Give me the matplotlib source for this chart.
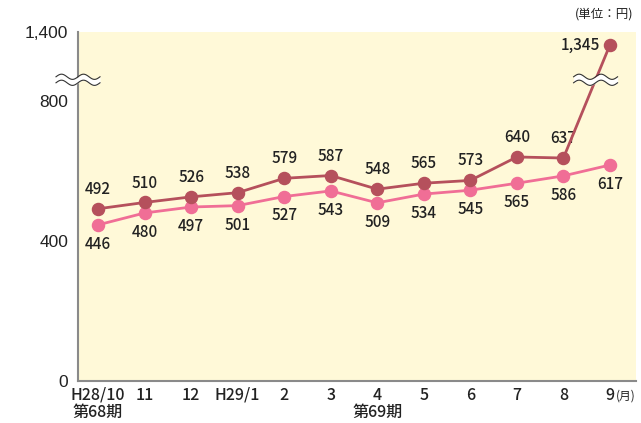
import numpy as np
import matplotlib
matplotlib.use('Agg')
import matplotlib.pyplot as plt

plt.rcParams['font.family'] = ['Noto Sans CJK JP', 'DejaVu Sans']

months = ['H28/10', '11', '12', 'H29/1', '2', '3', '4', '5', '6', '7', '8', '9']
upper = [492, 510, 526, 538, 579, 587, 548, 565, 573, 640, 637, 1345]
lower = [446, 480, 497, 501, 527, 543, 509, 534, 545, 565, 586, 617]
yticks = [0, 400, 800, 1400]
ytick_labels = ['0', '400', '800', '1,400']
periods = {0: '第68期', 6: '第69期'}

dark = '#b5505c'
pink = '#f06e96'
bg = '#fff9d8'
txt = '#222222'

# broken axis: squeeze the 860..1197 range to almost nothing
knots_v = [0, 860, 1197, 1400]
knots_f = [0, 860, 861, 997]


def fwd(v):
    return np.interp(v, knots_v, knots_f, left=-1e9, right=1e9)


def inv(f):
    return np.interp(f, knots_f, knots_v, left=-1e9, right=1e9)


fig = plt.figure(figsize=(6.41, 4.23), dpi=100)
ax = fig.add_axes([78 / 641, 42 / 423, 558 / 641, 349 / 423])
ax.set_facecolor(bg)
ax.set_yscale('function', functions=(fwd, inv))
ax.set_ylim(0, 1400)
x = np.arange(len(months))
ax.set_xlim(-0.43, 11.56)

ax.plot(x, upper, color=dark, lw=2, marker='o', ms=8.7, zorder=4)
ax.plot(x, lower, color=pink, lw=2, marker='o', ms=8.7, zorder=3)

lab = dict(fontsize=11, color=txt, fontweight='medium')
for i, v in enumerate(upper):
    if i == len(upper) - 1:
        ax.annotate(f'{v:,}', (i, v), xytext=(-7, 0), textcoords='offset points',
                    ha='right', va='center', **lab)
    else:
        ax.annotate(f'{v:,}', (i, v), xytext=(0, 14), textcoords='offset points',
                    ha='center', va='center', **lab)
for i, v in enumerate(lower):
    ax.annotate(f'{v:,}', (i, v), xytext=(0, -14), textcoords='offset points',
                ha='center', va='center', **lab)

ax.set_yticks(yticks)
ax.set_yticklabels(ytick_labels, family=['Liberation Sans', 'DejaVu Sans'], fontsize=12.5)
ax.yaxis.set_minor_locator(matplotlib.ticker.NullLocator())
ax.set_xticks(x)
ax.set_xticklabels(months, fontsize=11.5, fontweight='medium')
ax.tick_params(length=0, colors=txt)
ax.tick_params(axis='y', pad=7)
ax.tick_params(axis='x', pad=4)

for s in ['top', 'right']:
    ax.spines[s].set_visible(False)
for s in ['left', 'bottom']:
    ax.spines[s].set_color('#8a8a8a')
    ax.spines[s].set_linewidth(1.5)

for i, t in periods.items():
    ax.text(i, -0.09, t, transform=ax.get_xaxis_transform(), ha='center', va='center',
            fontsize=11.5, fontweight='medium', color=txt)

ax.text(1.0, -0.043, '(月)', transform=ax.transAxes, ha='right', va='center',
        fontsize=8.5, color=txt)
fig.text(0.988, 0.966, '(単位：円)', ha='right', va='center', fontsize=9, color=txt)


# wavy break marks
def wave(cx, cy):
    px, py = ax.transData.transform((cx, cy))
    dx = np.linspace(-22, 22, 80)
    dy = 2.6 * np.sin(2 * np.pi * dx / 22)
    to_ax = ax.transAxes.inverted()
    top = to_ax.transform(np.column_stack([px + dx, py + dy + 3]))
    bot = to_ax.transform(np.column_stack([px + dx, py + dy - 3]))
    ax.fill_between(top[:, 0], bot[:, 1], top[:, 1], color='white',
                    transform=ax.transAxes, zorder=6, clip_on=False, lw=0)
    ax.plot(top[:, 0], top[:, 1], color='#333333', lw=0.8, transform=ax.transAxes,
            zorder=7, clip_on=False)
    ax.plot(bot[:, 0], bot[:, 1], color='#333333', lw=0.8, transform=ax.transAxes,
            zorder=7, clip_on=False)


brk = 1030
cross = 10 + (fwd(brk) - fwd(upper[10])) / (fwd(upper[11]) - fwd(upper[10]))
wave(-0.43, brk)
wave(cross, brk)

fig.savefig('out.png', dpi=100)
